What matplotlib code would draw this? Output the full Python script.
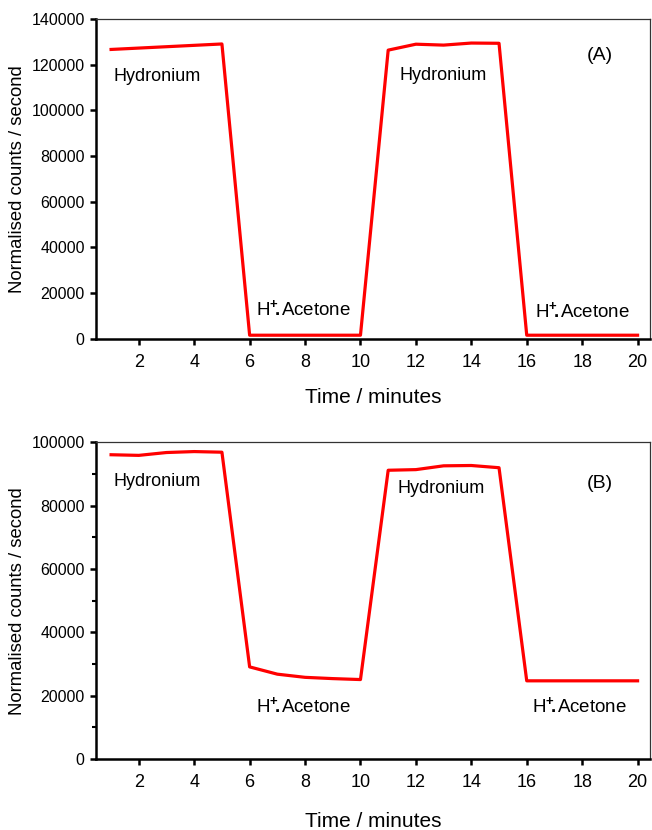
import matplotlib
matplotlib.use('Agg')
import matplotlib.pyplot as plt
from matplotlib.ticker import MultipleLocator

plt.rcParams['font.family'] = ['Liberation Sans', 'DejaVu Sans']
plt.rcParams['mathtext.fontset'] = 'custom'
plt.rcParams['mathtext.rm'] = 'Liberation Sans'
plt.rcParams['mathtext.bf'] = 'Liberation Sans:bold'

# ── Data ─────────────────────────────────────────────────────
time_min = [1, 2, 3, 4, 5, 6, 7, 8, 9, 10, 11, 12, 13, 14, 15, 16, 17, 18, 19, 20]
counts_a = [126700, 127300, 127900, 128500, 129100,
            1500, 1500, 1500, 1500, 1500,
            126400, 129000, 128600, 129500, 129400,
            1500, 1500, 1500, 1500, 1500]
counts_b = [96100, 95900, 96800, 97100, 96900,
            29100, 26800, 25800, 25400, 25100,
            91200, 91400, 92600, 92700, 92000,
            24700, 24700, 24700, 24700, 24700]
x_ticks = [2, 4, 6, 8, 10, 12, 14, 16, 18, 20]

acetone = r'$\mathrm{H}^{\mathbf{+}}\!\mathbf{.}\hspace{-0.15}\mathrm{Acetone}$'

fig = plt.figure(figsize=(6.52, 8.3), dpi=100)
ax_a = fig.add_axes([0.147, 0.592, 0.850, 0.385])
ax_b = fig.add_axes([0.147, 0.0855, 0.850, 0.3815])


def style_axes(ax, ymax, ystep, minor=None, labelpad=12):
    ax.set_xlim(0.45, 20.45)
    ax.set_ylim(0, ymax)
    ax.set_xticks(x_ticks)
    ax.yaxis.set_major_locator(MultipleLocator(ystep))
    if minor:
        ax.yaxis.set_minor_locator(MultipleLocator(minor))
    ax.tick_params(axis='both', which='major', direction='out', length=4,
                   width=1.8, pad=4)
    ax.tick_params(axis='y', labelsize=11.5)
    ax.tick_params(axis='x', labelsize=13, pad=7)
    ax.tick_params(axis='y', which='minor', direction='out', length=3, width=1.5)
    for side in ('left', 'bottom'):
        ax.spines[side].set_linewidth(1.8)
    for side in ('top', 'right'):
        ax.spines[side].set_linewidth(0.9)
        ax.spines[side].set_color('#333333')
    ax.set_xlabel("Time / minutes", fontsize=15, labelpad=labelpad)
    ax.set_ylabel("Normalised counts / second", fontsize=13.3)


# ── Panel A ──────────────────────────────────────────────────
ax_a.plot(time_min, counts_a, color='#ff0000', linewidth=2.3)
style_axes(ax_a, 140000, 20000)
ax_a.text(1.1, 115000, "Hydronium", fontsize=13, va='center')
ax_a.text(11.4, 115500, "Hydronium", fontsize=13, va='center')
ax_a.text(6.23, 12700, acetone, fontsize=13.5, va='center')
ax_a.text(16.3, 11800, acetone, fontsize=13.5, va='center')
ax_a.text(18.17, 124000, "(A)", fontsize=14, va='center')

# ── Panel B ──────────────────────────────────────────────────
ax_b.plot(time_min, counts_b, color='#ff0000', linewidth=2.3)
style_axes(ax_b, 100000, 20000, minor=10000, labelpad=15)
ax_b.text(1.1, 87700, "Hydronium", fontsize=13, va='center')
ax_b.text(11.33, 85500, "Hydronium", fontsize=13, va='center')
ax_b.text(6.23, 16400, acetone, fontsize=13.5, va='center')
ax_b.text(16.2, 16400, acetone, fontsize=13.5, va='center')
ax_b.text(18.17, 87100, "(B)", fontsize=14, va='center')

fig.savefig("out.png", dpi=100)
plt.close(fig)
